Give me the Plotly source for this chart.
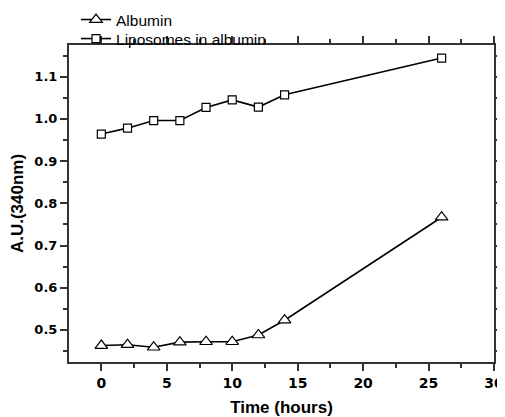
import plotly.graph_objects as go

time_h = [0, 2, 4, 6, 8, 10, 12, 14, 26]
albumin = [0.463, 0.465, 0.459, 0.471, 0.472, 0.472, 0.488, 0.523, 0.767]
liposomes = [0.964, 0.978, 0.996, 0.996, 1.027, 1.045, 1.028, 1.057, 1.144]

x_ticks = [0, 5, 10, 15, 20, 25, 30]
y_ticks = [0.5, 0.6, 0.7, 0.8, 0.9, 1.0, 1.1]
y_tick_labels = ["0.5", "0.6", "0.7", "0.8", "0.9", "1.0", "1.1"]

fig = go.Figure()
fig.add_trace(go.Scatter(
    x=time_h, y=albumin, name="Albumin", mode="lines+markers", legend="legend",
    line=dict(color="black", width=1.6),
    marker=dict(symbol="triangle-up", size=11, color="white",
                line=dict(color="black", width=1.2)),
))
fig.add_trace(go.Scatter(
    x=time_h, y=liposomes, name="Liposomes in albumin", mode="lines+markers", legend="legend2",
    line=dict(color="black", width=1.6),
    marker=dict(symbol="square", size=8, color="white",
                line=dict(color="black", width=1.2)),
))

axis_common = dict(
    showline=True, linecolor="#333333", linewidth=2, mirror="ticks",
    ticks="outside", ticklen=7, tickwidth=1.5, tickcolor="#333333",
    showgrid=False, zeroline=False,
)
title_font = dict(family="Liberation Sans, Arial", size=17, color="black", weight="bold")

fig.update_xaxes(
    range=[-2.47, 30.0], tickvals=x_ticks,
    tickfont=dict(family="DejaVu Sans", size=14, color="black", weight="bold"),
    minor=dict(dtick=2.5, tick0=2.5, ticks="outside", ticklen=4, tickcolor="#333333", tickwidth=1.5),
    title=dict(text="Time (hours)", font=title_font, standoff=12),
    **axis_common,
)
fig.update_yaxes(
    range=[0.424, 1.175], tickvals=y_ticks, ticktext=y_tick_labels,
    tickfont=dict(family="DejaVu Sans", size=13, color="black", weight="bold"),
    minor=dict(dtick=0.05, tick0=0.45, ticks="outside", ticklen=4, tickcolor="#333333", tickwidth=1.5),
    title=dict(text="A.U.(340nm)", font=title_font, standoff=8),
    **axis_common,
)

legend_common = dict(
    xanchor="left", yanchor="middle", bgcolor="rgba(0,0,0,0)",
    font=dict(family="Liberation Sans, Arial", size=15.5, color="black"),
    itemwidth=30, borderwidth=0,
)

fig.update_layout(
    width=497, height=409,
    margin=dict(l=61, r=11, t=37, b=55, autoexpand=False),
    plot_bgcolor="white", paper_bgcolor="white",
    showlegend=True,
    legend=dict(x=0.0165, y=1.079, **legend_common),
    legend2=dict(x=0.0165, y=1.019, **legend_common),
)

fig.write_html("out.html")
